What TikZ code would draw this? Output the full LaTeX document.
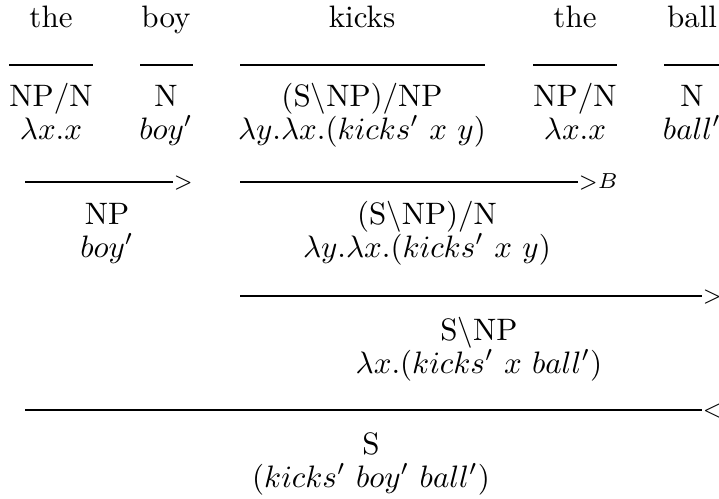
\documentclass[tikz,border=0pt]{standalone}
\begin{document}
\begin{tikzpicture}[x=0.3226pt,y=-0.3226pt,
  txt/.style={inner sep=0pt,anchor=base},
  rule/.style={line width=0.9pt},
  lbl/.style={inner sep=0pt,anchor=base west,font=\scriptsize}]
\useasboundingbox (0,0) rectangle (719,498);

% words
\node[txt] (w1) at (51,27)  {the};
\node[txt] (w2) at (166,27) {boy};
\node[txt] (w3) at (362,27) {kicks};
\node[txt] (w4) at (575,27) {the};
\node[txt] (w5) at (692,27) {ball};

% lexical rules
\coordinate (a1) at (9,65);   \coordinate (b1) at (93,65);
\coordinate (a2) at (140,65); \coordinate (b2) at (193,65);
\coordinate (a3) at (240,65); \coordinate (b3) at (485,65);
\coordinate (a4) at (533,65); \coordinate (b4) at (617,65);
\coordinate (a5) at (664,65); \coordinate (b5) at (720,65);
\foreach \i in {1,...,5} \draw[rule] (a\i) -- (b\i);

% lexical categories and meanings
\node[txt] (c1) at (51,106)  {$\mathrm{NP/N}$};
\node[txt] (c2) at (166,106) {$\mathrm{N}$};
\node[txt] (c3) at (362,106) {$\mathrm{(S\backslash NP)/NP}$};
\node[txt] (c4) at (575,106) {$\mathrm{NP/N}$};
\node[txt] (c5) at (692,106) {$\mathrm{N}$};
\node[txt] (s1) at (51,139)  {$\lambda x.x$};
\node[txt] (s2) at (166,139) {$boy'$};
\node[txt] (s3) at (362,139) {$\lambda y.\lambda x.(kicks'\ x\ y)$};
\node[txt] (s4) at (575,139) {$\lambda x.x$};
\node[txt] (s5) at (692,139) {$ball'$};

% the boy  =>  NP
\coordinate (p1a) at (25,182);
\node[lbl] (p1) at (173,188) {${>}$};
\draw[rule] (p1a) -- (p1.west |- p1a);
\node[txt] (c6) at (107,224) {$\mathrm{NP}$};
\node[txt] (s6) at (107,257) {$boy'$};

% kicks the  =>  (S\NP)/N  (composition)
\coordinate (p2a) at (240,182);
\node[lbl] (p2) at (578,188) {${>}B$};
\draw[rule] (p2a) -- (p2.west |- p2a);
\node[txt] (c7) at (427,224) {$\mathrm{(S\backslash NP)/N}$};
\node[txt] (s7) at (427,257) {$\lambda y.\lambda x.(kicks'\ x\ y)$};

% kicks the ball  =>  S\NP
\coordinate (p3a) at (240,296);
\node[lbl] (p3) at (702,302) {${>}$};
\draw[rule] (p3a) -- (p3.west |- p3a);
\node[txt] (c8) at (479,340) {$\mathrm{S\backslash NP}$};
\node[txt] (s8) at (479,373) {$\lambda x.(kicks'\ x\ ball')$};

% the boy kicks the ball  =>  S
\coordinate (p4a) at (25,410);
\node[lbl] (p4) at (702,416) {${<}$};
\draw[rule] (p4a) -- (p4.west |- p4a);
\node[txt] (c9) at (371,454) {$\mathrm{S}$};
\node[txt] (s9) at (371,487) {$(kicks'\ boy'\ ball')$};
\end{tikzpicture}
\end{document}
